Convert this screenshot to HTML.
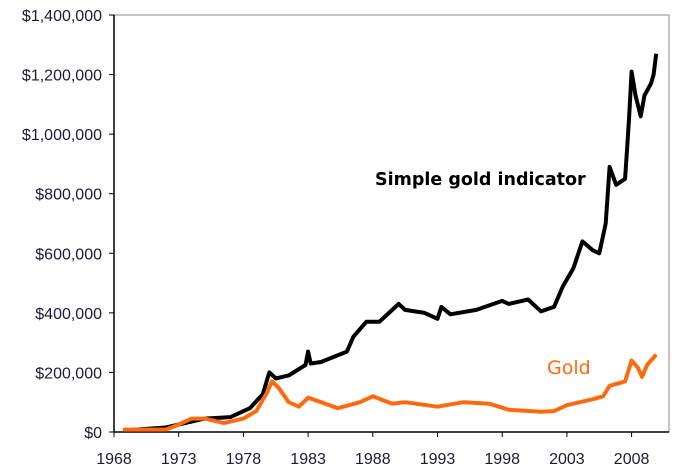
<!DOCTYPE html>
<html><head><meta charset="utf-8"><style>
body{margin:0;background:#fff;}
svg{display:block;font-family:"Liberation Sans",Arial,sans-serif;}
</style></head><body>
<svg id="chart" width="680" height="470" viewBox="0 0 680 470">
<rect x="114" y="15" width="555" height="417" fill="#fff" stroke="#888" stroke-width="1"/>
<g id="axes"></g>
<g id="series"></g>
<text x="375" y="185" font-family="'DejaVu Sans',sans-serif" font-weight="bold" font-size="17.5" fill="#000">Simple gold indicator</text>
<text x="547" y="374" font-family="'DejaVu Sans',sans-serif" font-size="19" fill="#ff6a10">Gold</text>
</svg>
<script>
const yTicks=[0,200000,400000,600000,800000,1000000,1200000,1400000];
const yTickLabels=["$0","$200,000","$400,000","$600,000","$800,000","$1,000,000","$1,200,000","$1,400,000"];
const xTicks=[1968,1973,1978,1983,1988,1993,1998,2003,2008];
const indicatorYears=[1968.7,1972,1973.5,1975,1977,1978.5,1979.5,1980,1980.5,1981.5,1982.8,1983,1983.2,1984,1986,1986.5,1987.5,1988.5,1990,1990.5,1992,1993,1993.3,1994,1996,1998,1998.5,2000,2001,2002,2002.7,2003.5,2004.2,2005,2005.5,2006,2006.3,2006.8,2007.5,2007.8,2008,2008.3,2008.7,2009,2009.5,2009.7,2009.9];
const indicatorValues=[5000,15000,30000,45000,50000,80000,127000,200000,180000,190000,225000,270000,230000,235000,270000,320000,370000,370000,430000,410000,400000,380000,420000,395000,410000,440000,430000,445000,405000,420000,490000,550000,640000,610000,600000,700000,890000,830000,850000,1050000,1210000,1130000,1060000,1130000,1170000,1200000,1270000];
const goldYears=[1968.7,1972,1973,1974,1975,1976.5,1978,1979,1979.8,1980.2,1980.7,1981.5,1982.3,1983,1984,1985.3,1987,1988,1989.5,1990.5,1993,1995,1997,1998.5,2001,2002,2003,2005,2005.8,2006.3,2007.5,2008,2008.5,2008.8,2009.2,2009.9];
const goldValues=[8000,8000,25000,45000,45000,30000,45000,70000,130000,170000,150000,100000,85000,115000,100000,80000,100000,120000,95000,100000,85000,100000,95000,75000,68000,70000,90000,110000,120000,155000,170000,240000,215000,185000,225000,260000];

const NS="http://www.w3.org/2000/svg";
const X0=114,X1=669,Y0=432,Y1=15;
const xs=y=>X0+(y-1968)*12.94;
const ys=v=>Y0-v/1400000*(Y0-Y1);
const axes=document.getElementById('axes');
const series=document.getElementById('series');
function mk(tag,attrs,parent){const e=document.createElementNS(NS,tag);for(const k in attrs)e.setAttribute(k,attrs[k]);parent.appendChild(e);return e;}
const ax=mk('line',{x1:X0,y1:Y0,x2:X1,y2:Y0,stroke:'#000','stroke-width':1.5},axes);


const ay=mk('line',{x1:X0,y1:Y0,x2:X0,y2:Y1,stroke:'#000','stroke-width':1.5},axes);


yTicks.forEach((v,i)=>{
  const t=mk('line',{x1:X0-5,x2:X0,y1:ys(v),y2:ys(v),stroke:'#000'},axes);
  
  
  const l=mk('text',{x:X0-12,y:ys(v)+6,'text-anchor':'end','font-size':16,fill:'#1a1a3a'},axes);
  l.textContent=yTickLabels[i];
  
  
});
xTicks.forEach(y=>{
  const t=mk('line',{x1:xs(y),x2:xs(y),y1:Y0,y2:Y0+5,stroke:'#000'},axes);
  
  
  const l=mk('text',{x:xs(y),y:Y0+32,'text-anchor':'middle','font-size':16,fill:'#1a1a3a'},axes);
  l.textContent=y;
  
  
});
function line(years,vals,color){
  return mk('polyline',{points:years.map((y,i)=>xs(y).toFixed(1)+','+ys(vals[i]).toFixed(1)).join(' '),fill:'none',stroke:color,'stroke-width':4,'stroke-linejoin':'round'},series);
}
const gl=line(goldYears,goldValues,'#ff6a10');


const il=line(indicatorYears,indicatorValues,'#000');


series.insertBefore(il,gl);
</script>
</body></html>
